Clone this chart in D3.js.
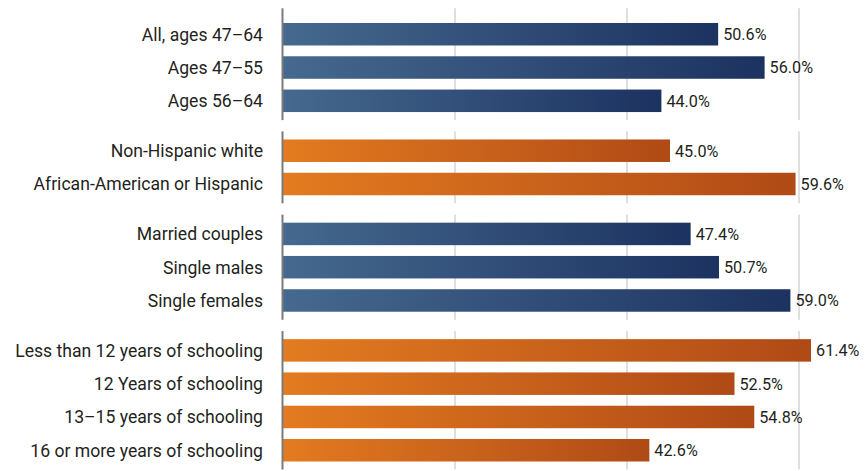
<!DOCTYPE html>
<html>
<head>
<meta charset="utf-8">
<script src="https://cdn.jsdelivr.net/npm/d3@7"></script>
<style>
  html, body { margin: 0; padding: 0; background: #ffffff; }
  svg { display: block; }
  text { font-family: Roboto, "Open Sans", sans-serif; fill: #231f20; }
</style>
</head>
<body>
<svg id="chart" width="868" height="471"></svg>
<script>
// Share of households, by group
const categories = [
  "All, ages 47\u201364",
  "Ages 47\u201355",
  "Ages 56\u201364",
  "Non-Hispanic white",
  "African-American or Hispanic",
  "Married couples",
  "Single males",
  "Single females",
  "Less than 12 years of schooling",
  "12 Years of schooling",
  "13\u201315 years of schooling",
  "16 or more years of schooling"
];
const values = [50.6, 56.0, 44.0, 45.0, 59.6, 47.4, 50.7, 59.0, 61.4, 52.5, 54.8, 42.6];
const groupIndex = [0, 0, 0, 1, 1, 2, 2, 2, 3, 3, 3, 3];
const groupPalette = ["blue", "orange", "blue", "orange"];
const gridTicks = [20, 40, 60];

const width = 868, height = 471;
const svg = d3.select("#chart");

// Horizontal value scale
const x = d3.scaleLinear().domain([0, 60]).range([283, 799]);

// Vertical layout: one unit per row, half a unit of space between groups
const groupGap = 0.5;
const unitPos = values.map((d, i) => i + groupIndex[i] * groupGap);
const totalUnits = values.length + (d3.max(groupIndex)) * groupGap;
const y = d3.scaleLinear().domain([0, totalUnits]).range([17.6, 17.6 + totalUnits * 33.28]);
const barPad = 0.162;

// Gradients (per bar, left to right)
const defs = svg.append("defs");
const gradients = {
  blue: ["#45698f", "#1c3260"],
  orange: ["#e37b20", "#b04a16"]
};
Object.entries(gradients).forEach(([name, stops]) => {
  const g = defs.append("linearGradient").attr("id", "grad-" + name)
    .attr("x1", "0%").attr("x2", "100%").attr("y1", "0%").attr("y2", "0%");
  g.append("stop").attr("offset", "0%").attr("stop-color", stops[0]);
  g.append("stop").attr("offset", "100%").attr("stop-color", stops[1]);
});

// Group extents for gridlines and baseline
const groups = d3.groups(values.map((v, i) => ({ i, g: groupIndex[i] })), d => d.g)
  .map(([g, rows]) => {
    const first = unitPos[rows[0].i];
    const last = unitPos[rows[rows.length - 1].i] + 1;
    return {
      g,
      top: g === 0 ? y(first - 0.28) : y(first - 0.08),
      bottom: y(last + 0.08)
    };
  });

// Gridlines
const grid = svg.append("g").attr("class", "grid");
groups.forEach(gr => {
  grid.selectAll(null).data(gridTicks).enter().append("line")
    .attr("x1", d => x(d)).attr("x2", d => x(d))
    .attr("y1", gr.top).attr("y2", gr.bottom)
    .attr("stroke", "#d4d4d4").attr("stroke-width", 1.5);
});

// Bars
svg.append("g").selectAll("rect").data(values).enter().append("rect")
  .attr("x", x(0))
  .attr("y", (d, i) => y(unitPos[i] + barPad))
  .attr("width", d => x(d) - x(0))
  .attr("height", (d, i) => y(unitPos[i] + 1 - barPad) - y(unitPos[i] + barPad))
  .attr("fill", (d, i) => "url(#grad-" + groupPalette[groupIndex[i]] + ")");

// Baseline at zero, one segment per group
svg.append("g").selectAll("line").data(groups).enter().append("line")
  .attr("x1", x(0) - 0.5).attr("x2", x(0) - 0.5)
  .attr("y1", d => d.top).attr("y2", d => d.bottom)
  .attr("stroke", "#7a7a7a").attr("stroke-width", 2);

// Category labels
svg.append("g").selectAll("text").data(categories).enter().append("text")
  .attr("x", x(0) - 20)
  .attr("y", (d, i) => y(unitPos[i] + 0.5))
  .attr("dy", "0.36em")
  .attr("text-anchor", "end")
  .attr("font-size", 17.6)
  .text(d => d);

// Value labels
svg.append("g").selectAll("text").data(values).enter().append("text")
  .attr("x", d => x(d) + 5)
  .attr("y", (d, i) => y(unitPos[i] + 0.5))
  .attr("dy", "0.36em")
  .attr("font-size", 16.2)
  .text(d => d.toFixed(1) + "%");
</script>
</body>
</html>
